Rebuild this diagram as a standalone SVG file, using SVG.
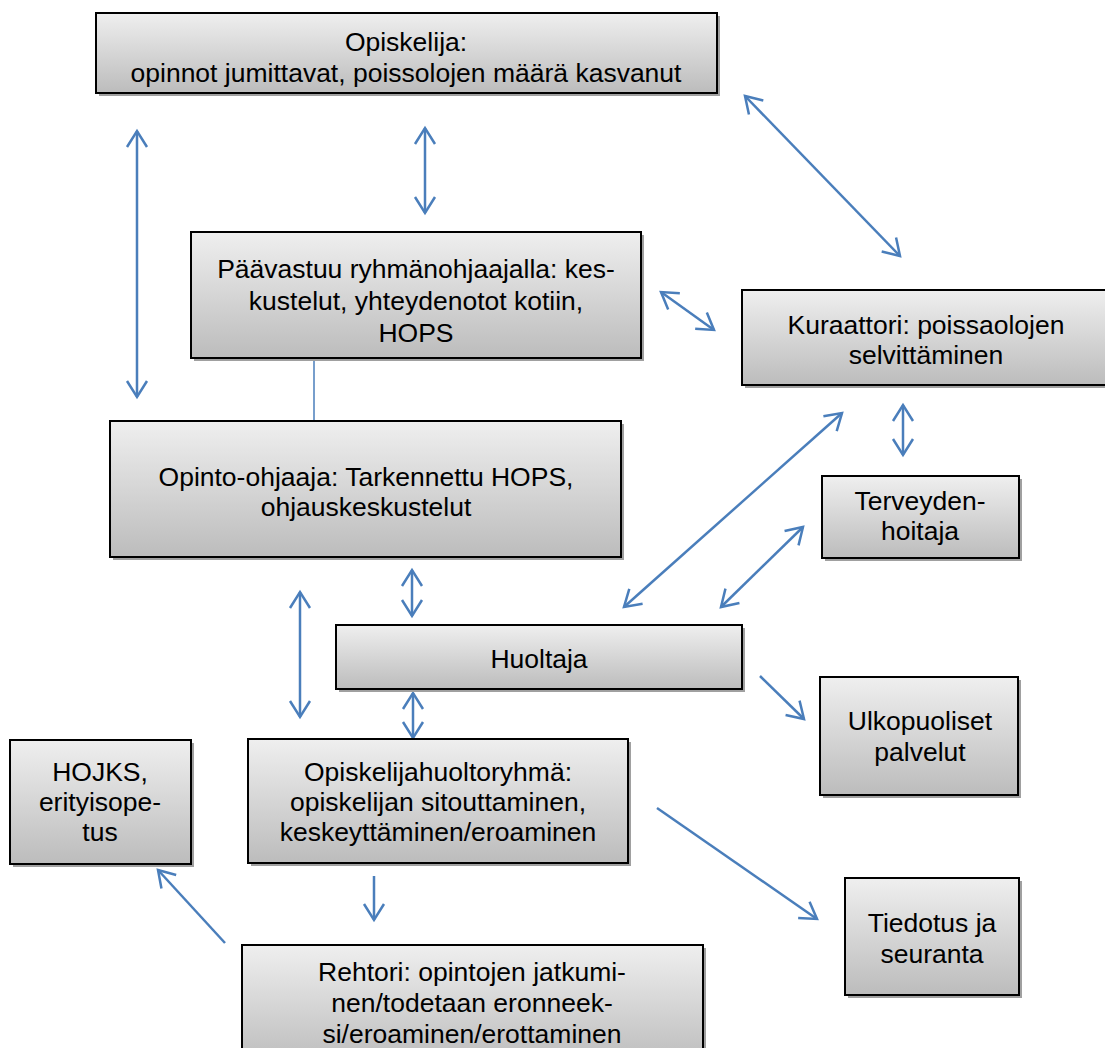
<svg xmlns="http://www.w3.org/2000/svg" width="1105" height="1048" viewBox="0 0 1105 1048">
<style>
.box{fill:url(#g);stroke:#000;stroke-width:2}
.sh{fill:#a0a0a0}
text{font-family:"Liberation Sans",Arial,sans-serif;font-size:26.5px;fill:#000;text-anchor:middle}
.c{stroke:#4a7ebb;stroke-width:2.5;fill:none}
.a{marker-end:url(#ah)}
.b{marker-start:url(#ah);marker-end:url(#ah)}
</style>
<defs>
<linearGradient id="g" x1="0" y1="0" x2="0" y2="1">
<stop offset="0" stop-color="#efefef"/>
<stop offset="1" stop-color="#bcbcbc"/>
</linearGradient>
<marker id="ah" viewBox="-19 -12 22 24" refX="0" refY="0" markerWidth="22" markerHeight="24" markerUnits="userSpaceOnUse" orient="auto-start-reverse">
<path d="M-16,-10 L0,0 L-16,10" fill="none" stroke="#4a7ebb" stroke-width="2.5"/>
</marker>
</defs>
<rect width="1105" height="1048" fill="#fff"/>
<g id="connectors">
<line class="c b" x1="137" y1="131" x2="137" y2="397"/>
<line class="c b" x1="425" y1="128" x2="425" y2="213"/>
<line class="c b" x1="745" y1="96" x2="900" y2="256"/>
<line class="c b" x1="661" y1="292" x2="714" y2="330"/>
<line class="c b" x1="903" y1="405" x2="903" y2="455"/>
<line class="c b" x1="842" y1="413" x2="624" y2="607"/>
<line class="c b" x1="803" y1="527" x2="721" y2="607"/>
<line class="c b" x1="300" y1="592" x2="300" y2="717"/>
<line class="c b" x1="412" y1="570" x2="412" y2="616"/>
<line class="c b" x1="413" y1="693" x2="413" y2="738"/>
<line class="c a" x1="760" y1="676" x2="804" y2="719"/>
<line class="c a" x1="657" y1="808" x2="817" y2="919"/>
<line class="c a" x1="374" y1="876" x2="374" y2="920"/>
<line class="c a" x1="225" y1="943" x2="158" y2="870"/>
<line x1="314" y1="359" x2="314" y2="421" stroke="#4a7ebb" stroke-width="1.5"/>
</g>
<g id="opiskelija">
<rect class="sh" x="99" y="16" width="621" height="80"/>
<rect class="box" x="96" y="13" width="621" height="80"/>
<text x="406" y="51">Opiskelija:</text>
<text x="406" y="82">opinnot jumittavat, poissolojen määrä kasvanut</text>
</g>
<g id="paavastuu">
<rect class="sh" x="194" y="235" width="450" height="126"/>
<rect class="box" x="191" y="232" width="450" height="126"/>
<text x="416" y="278">Päävastuu ryhmänohjaajalla: kes-</text>
<text x="416" y="310">kustelut, yhteydenotot kotiin,</text>
<text x="416" y="342">HOPS</text>
</g>
<g id="kuraattori">
<rect class="sh" x="745" y="293" width="368" height="95"/>
<rect class="box" x="742" y="290" width="368" height="95"/>
<text x="926" y="334">Kuraattori: poissaolojen</text>
<text x="926" y="364">selvittäminen</text>
</g>
<g id="opinto-ohjaaja">
<rect class="sh" x="113" y="424" width="511" height="136"/>
<rect class="box" x="110" y="421" width="511" height="136"/>
<text x="366" y="486">Opinto-ohjaaja: Tarkennettu HOPS,</text>
<text x="366" y="516">ohjauskeskustelut</text>
</g>
<g id="terveydenhoitaja">
<rect class="sh" x="825" y="479" width="197" height="82"/>
<rect class="box" x="822" y="476" width="197" height="82"/>
<text x="920" y="510">Terveyden-</text>
<text x="920" y="540">hoitaja</text>
</g>
<g id="huoltaja">
<rect class="sh" x="339" y="628" width="406" height="64"/>
<rect class="box" x="336" y="625" width="406" height="64"/>
<text x="539" y="668">Huoltaja</text>
</g>
<g id="ulkopuoliset">
<rect class="sh" x="823" y="680" width="198" height="118"/>
<rect class="box" x="820" y="677" width="198" height="118"/>
<text x="920" y="730">Ulkopuoliset</text>
<text x="920" y="761">palvelut</text>
</g>
<g id="hojks">
<rect class="sh" x="13" y="743" width="181" height="124"/>
<rect class="box" x="10" y="740" width="181" height="124"/>
<text x="100" y="781">HOJKS,</text>
<text x="100" y="811">erityisope-</text>
<text x="100" y="841">tus</text>
</g>
<g id="opiskelijahuoltoryhma">
<rect class="sh" x="251" y="742" width="380" height="124"/>
<rect class="box" x="248" y="739" width="380" height="124"/>
<text x="438" y="781">Opiskelijahuoltoryhmä:</text>
<text x="438" y="811">opiskelijan sitouttaminen,</text>
<text x="438" y="841">keskeyttäminen/eroaminen</text>
</g>
<g id="tiedotus">
<rect class="sh" x="848" y="881" width="174" height="117"/>
<rect class="box" x="845" y="878" width="174" height="117"/>
<text x="932" y="932">Tiedotus ja</text>
<text x="932" y="963">seuranta</text>
</g>
<g id="rehtori">
<rect class="sh" x="245" y="948" width="461" height="120"/>
<rect class="box" x="242" y="945" width="461" height="120"/>
<text x="472" y="981">Rehtori: opintojen jatkumi-</text>
<text x="472" y="1012">nen/todetaan eronneek-</text>
<text x="472" y="1043">si/eroaminen/erottaminen</text>
</g>
</svg>
